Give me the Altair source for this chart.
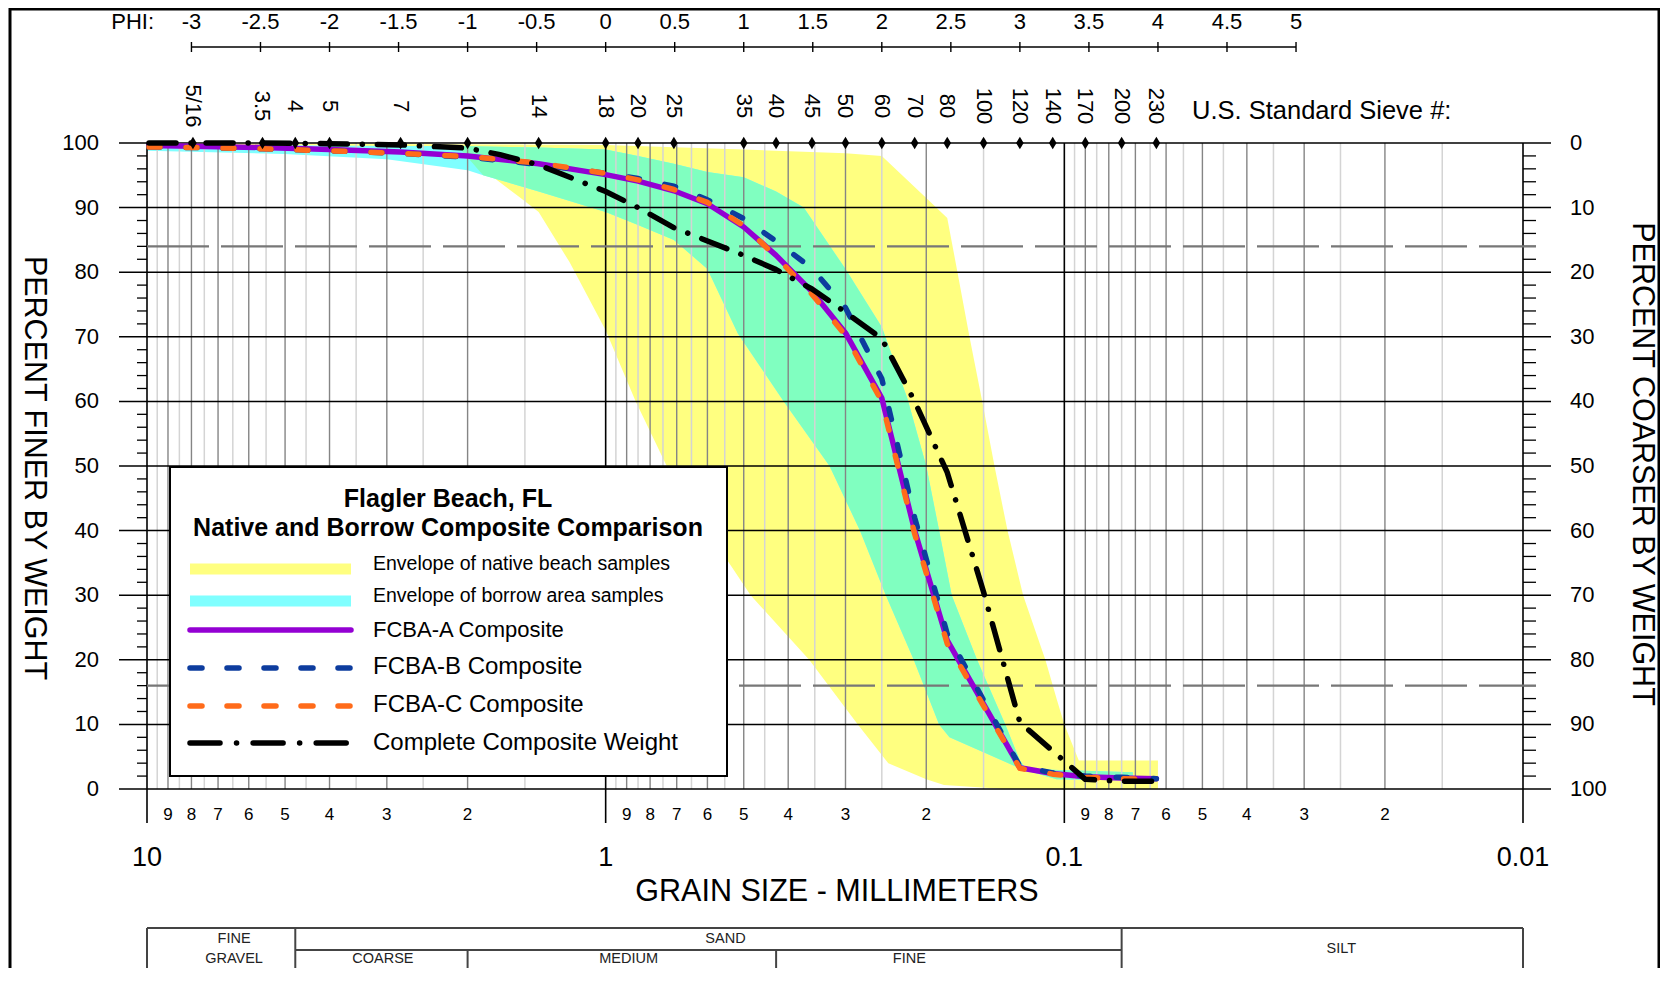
import altair as alt
import pandas as pd

# ---------------- data ----------------
PHI_VALUES = [-3, -2.5, -2, -1.5, -1, -0.5, 0, 0.5, 1, 1.5, 2, 2.5, 3, 3.5, 4, 4.5, 5]
PHI_LABELS = ["-3", "-2.5", "-2", "-1.5", "-1", "-0.5", "0", "0.5", "1", "1.5", "2",
              "2.5", "3", "3.5", "4", "4.5", "5"]

SIEVE_LABELS = ["5/16", "3.5", "4", "5", "7", "10", "14", "18", "20", "25", "35", "40", "45",
                "50", "60", "70", "80", "100", "120", "140", "170", "200", "230"]
SIEVE_MM = [7.94, 5.6, 4.75, 4.0, 2.8, 2.0, 1.4, 1.0, 0.85, 0.71, 0.5, 0.425, 0.355,
            0.3, 0.25, 0.212, 0.18, 0.15, 0.125, 0.106, 0.09, 0.075, 0.063]

MAJOR_MM = [10, 1, 0.1, 0.01]
MAJOR_LABELS = ["10", "1", "0.1", "0.01"]
DECADE_BASE = [1, 0.1, 0.01]
MINOR_MULT = [2, 3, 4, 5, 6, 7, 8, 9]
HALF_MULT = [1.5, 2.5, 3.5, 4.5, 5.5, 6.5, 7.5, 8.5, 9.5]

PCT_MAJOR = [0, 10, 20, 30, 40, 50, 60, 70, 80, 90, 100]
PCT_MINOR = [2, 4, 6, 8, 12, 14, 16, 18, 22, 24, 26, 28, 32, 34, 36, 38, 42, 44, 46, 48,
             52, 54, 56, 58, 62, 64, 66, 68, 72, 74, 76, 78, 82, 84, 86, 88, 92, 94, 96, 98]
GUIDE_PCT = [84, 16]

# envelope of native beach samples (yellow)
NATIVE_UPPER_MM = [10, 1.0, 0.5, 0.3, 0.25, 0.2, 0.18, 0.171, 0.161, 0.151, 0.142, 0.133,
                   0.123, 0.11, 0.104, 0.1, 0.093, 0.0625]
NATIVE_UPPER_PCT = [100, 99.7, 99.0, 98.4, 98.0, 91.5, 88.4, 80, 70, 60, 50, 40,
                    30, 20, 14, 10, 4.4, 4.4]
NATIVE_LOWER_MM = [10, 4.0, 2.5, 2.05, 1.82, 1.54, 1.4, 1.2, 1.0, 0.86, 0.736, 0.6,
                   0.483, 0.36, 0.282, 0.242, 0.2, 0.183, 0.135, 0.0625]
NATIVE_LOWER_PCT = [99.8, 99.6, 99.3, 98.5, 95.5, 91.6, 89.3, 81.6, 71.0, 60.0, 50.0, 40.0,
                    30.0, 20.0, 10.0, 4.0, 1.5, 0.6, 0.0, 0.0]

# envelope of borrow area samples (cyan)
BORROW_UPPER_MM = [10, 2.0, 1.4, 1.0, 0.85, 0.71, 0.6, 0.5, 0.425, 0.37, 0.3, 0.25, 0.22,
                   0.2, 0.1875, 0.176, 0.155, 0.1345, 0.125, 0.121, 0.0709]
BORROW_UPPER_PCT = [99.7, 99.5, 99.3, 99.0, 98.0, 96.8, 95.5, 94.7, 92.5, 90.0, 80.5, 71.5, 60.5,
                    50.0, 40.0, 30.0, 20.0, 10.0, 4.4, 3.1, 2.6]
BORROW_LOWER_MM = [10, 5.0, 3.0, 2.0, 1.85, 1.4, 1.0, 0.85, 0.71, 0.6, 0.515, 0.409, 0.325,
                   0.279, 0.245, 0.213, 0.1875, 0.178, 0.124, 0.104, 0.0709]
BORROW_LOWER_PCT = [98.8, 98.3, 97.5, 95.8, 95.0, 92.5, 89.3, 87.3, 85.0, 80.5, 70.5, 60.0, 50.0,
                    40.0, 30.0, 20.0, 10.0, 8.0, 3.1, 1.5, 1.3]
# where the native envelope's lower edge cuts into the borrow envelope (overlap starts)
OVERLAP_LEFT_MM = [2.1, 1.85]
OVERLAP_LEFT_PCT = [99.5, 95.0]

# composites
A_MM = [9.9, 7.94, 5.6, 4.0, 2.8, 2.0, 1.4, 1.0, 0.85, 0.71, 0.6, 0.5, 0.425, 0.355, 0.3,
        0.25, 0.212, 0.18, 0.125, 0.106, 0.09, 0.075, 0.063]
A_PCT = [99.6, 99.5, 99.3, 99.0, 98.6, 98.0, 96.8, 95.1, 94.1, 92.6, 90.6, 87.0, 82.6, 77.0,
         70.6, 60.5, 40.0, 23.0, 3.3, 2.4, 1.9, 1.7, 1.6]
B_PCT = [99.4, 99.3, 99.1, 98.8, 98.4, 97.8, 96.7, 95.3, 94.5, 93.3, 91.2, 88.3, 84.8, 80.6,
         74.5, 63.5, 42.0, 24.0, 3.5, 2.5, 2.0, 1.8, 1.6]
C_PCT = [99.4, 99.3, 99.1, 98.8, 98.4, 97.9, 96.9, 95.3, 94.3, 92.8, 90.8, 87.2, 82.4, 76.6,
         70.2, 60.0, 39.5, 22.5, 3.2, 2.3, 1.8, 1.6, 1.5]
K_MM = [9.9, 7.94, 5.6, 4.0, 2.8, 2.0, 1.7, 1.4, 1.0, 0.85, 0.71, 0.5, 0.425, 0.355, 0.3,
        0.25, 0.212, 0.18, 0.15, 0.125, 0.09, 0.075, 0.063]
K_PCT = [100, 100, 100, 99.9, 99.7, 99.2, 98.2, 96.6, 92.5, 90.0, 86.9, 82.6, 80.4, 77.4,
         73.8, 69.7, 60.0, 49.0, 30.5, 10.3, 1.5, 1.2, 1.2]

LEGEND_TITLE = ["Flagler Beach, FL", "Native and Borrow Composite Comparison"]
LEGEND_LABELS = ["Envelope of native beach samples", "Envelope of borrow area samples",
                 "FCBA-A Composite", "FCBA-B Composite", "FCBA-C Composite",
                 "Complete Composite Weight"]

CLASS_FULL_MM = [10, 4.75, 0.075, 0.01]
CLASS_HALF_MM = [2.0, 0.425]
CLASS_LABELS = ["FINE", "GRAVEL", "SAND", "COARSE", "MEDIUM", "FINE", "SILT"]
CLASS_LABEL_MM = [6.46, 6.46, 0.548, 3.06, 0.891, 0.2177, 0.0249]
CLASS_LABEL_ROW = ["top", "bottom", "top", "bottom", "bottom", "bottom", "mid"]

# ---------------- styling ----------------
W, H = 1376, 646
FONT = "Liberation Sans, Arial, sans-serif"
YELLOW, CYAN, MINT = "#FFFF80", "#80FFFF", "#80FFC0"
PURPLE, BLUE, ORANGE = "#9400D3", "#0D3C9E", "#FF6B1A"

XS = alt.Scale(type="log", domain=[0.01, 10], reverse=True, nice=False)
YS = alt.Scale(domain=[0, 100], nice=False, zero=False)


def X(f="mm"):
    return alt.X(f"{f}:Q", scale=XS, axis=None)


def Y(f="pct"):
    return alt.Y(f"{f}:Q", scale=YS, axis=None)


def label(text, x, y, size, **kw):
    return alt.Chart(pd.DataFrame({"t": [text]})).mark_text(
        baseline="middle", font=FONT, fontSize=size, color="black", **kw).encode(
        x=alt.value(x), y=alt.value(y), text="t:N")


ONE = pd.DataFrame({"k": [0]})
layers = []

# frame
layers.append(alt.Chart(ONE).mark_rect(fill="white", stroke="black", strokeWidth=3).encode(
    x=alt.value(-137), x2=alt.value(1512), y=alt.value(-134), y2=alt.value(900)))


# envelopes as filled polygons
def poly_df(umm, upct, lmm, lpct):
    mm = list(umm) + list(reversed(lmm))
    pct = list(upct) + list(reversed(lpct))
    return pd.DataFrame({"i": list(range(len(mm))), "mm": mm, "pct": pct})


def poly_chart(df, color):
    return alt.Chart(df).mark_line(filled=True, color=color, strokeWidth=0).encode(
        x=X(), y=Y(), order=alt.Order("i:Q"))


native_poly = poly_df(NATIVE_UPPER_MM, NATIVE_UPPER_PCT, NATIVE_LOWER_MM, NATIVE_LOWER_PCT)
borrow_poly = poly_df(BORROW_UPPER_MM, BORROW_UPPER_PCT, BORROW_LOWER_MM, BORROW_LOWER_PCT)
mu = [(OVERLAP_LEFT_MM[0], OVERLAP_LEFT_PCT[0])] + [
    (m, p) for m, p in zip(BORROW_UPPER_MM, BORROW_UPPER_PCT) if m < OVERLAP_LEFT_MM[0]]
ml = [(OVERLAP_LEFT_MM[1], OVERLAP_LEFT_PCT[1])] + [
    (m, p) for m, p in zip(BORROW_LOWER_MM, BORROW_LOWER_PCT) if m < OVERLAP_LEFT_MM[1]]
overlap_poly = poly_df([a for a, _ in mu], [b for _, b in mu], [a for a, _ in ml], [b for _, b in ml])

layers += [poly_chart(native_poly, YELLOW), poly_chart(borrow_poly, CYAN),
           poly_chart(overlap_poly, MINT)]

# vertical grid
half_df = pd.DataFrame({"mm": [m * b for b in DECADE_BASE for m in HALF_MULT]})
int_df = pd.DataFrame({"mm": [m * b for b in DECADE_BASE for m in MINOR_MULT]})
dec_df = pd.DataFrame({"mm": MAJOR_MM})
layers.append(alt.Chart(half_df).mark_rule(color="#d4d4d4", strokeWidth=1.5).encode(
    x=X(), y=alt.value(0), y2=alt.value(H)))
layers.append(alt.Chart(int_df).mark_rule(color="#858585", strokeWidth=1.4).encode(
    x=X(), y=alt.value(0), y2=alt.value(H)))
layers.append(alt.Chart(dec_df).mark_rule(color="black", strokeWidth=1.6).encode(
    x=X(), y=alt.value(0), y2=alt.value(H + 34)))

# horizontal grid + ticks
pm_df = pd.DataFrame({"pct": PCT_MAJOR})
pn_df = pd.DataFrame({"pct": PCT_MINOR})
layers.append(alt.Chart(pm_df).mark_rule(color="black", strokeWidth=1.5).encode(
    y=Y(), x=alt.value(-28), x2=alt.value(W + 28)))
layers.append(alt.Chart(pn_df).mark_rule(color="black", strokeWidth=1.3).encode(
    y=Y(), x=alt.value(-10), x2=alt.value(0)))
layers.append(alt.Chart(pn_df).mark_rule(color="black", strokeWidth=1.3).encode(
    y=Y(), x=alt.value(W), x2=alt.value(W + 13)))

# dashed guide lines
layers.append(alt.Chart(pd.DataFrame({"pct": GUIDE_PCT})).mark_rule(
    color="#777777", strokeWidth=2.2, strokeDash=[62, 12]).encode(
    y=Y(), x=alt.value(0), x2=alt.value(W + 13)))


# composite curves
def curve(mm, pct, color, dash=None, width=5.5):
    df = pd.DataFrame({"i": list(range(len(mm))), "mm": mm, "pct": pct})
    kw = dict(color=color, strokeWidth=width, strokeCap="round", strokeJoin="round")
    if dash:
        kw["strokeDash"] = dash
    return alt.Chart(df).mark_line(**kw).encode(x=X(), y=Y(), order=alt.Order("i:Q"))


layers.append(curve(A_MM, A_PCT, PURPLE))
layers.append(curve(A_MM, B_PCT, BLUE, [11, 26]))
layers.append(curve(A_MM, C_PCT, ORANGE, [11, 26]))
layers.append(curve(K_MM, K_PCT, "black", [27, 15, 0.1, 15]))

# sieve diamonds + labels
sieve_df = pd.DataFrame({"mm": SIEVE_MM, "label": SIEVE_LABELS, "pct": [100] * len(SIEVE_MM)})
layers.append(alt.Chart(sieve_df).mark_point(
    shape="M0,-1L0.6,0L0,1L-0.6,0Z", filled=True, color="black", size=160, opacity=1).encode(
    x=X(), y=Y()))
layers.append(alt.Chart(sieve_df).mark_text(
    angle=90, align="center", baseline="middle", font=FONT, fontSize=22, color="black").encode(
    x=X(), y=alt.value(-37), text="label:N"))
layers.append(label("U.S. Standard Sieve #:", 1045, -32, 25.5, align="left"))

# PHI axis
phi_df = pd.DataFrame({"phi": PHI_VALUES, "label": PHI_LABELS})
phi_line = pd.DataFrame({"a": [2.0 ** (-PHI_VALUES[0])], "b": [2.0 ** (-PHI_VALUES[-1])]})
layers.append(alt.Chart(phi_line).mark_rule(color="black", strokeWidth=1.6).encode(
    x=X("a"), x2="b:Q", y=alt.value(-96)))
phi_base = alt.Chart(phi_df).transform_calculate(mm="pow(2, -datum.phi)")
layers.append(phi_base.mark_rule(color="black", strokeWidth=1.4).encode(
    x=X(), y=alt.value(-101), y2=alt.value(-91)))
layers.append(phi_base.mark_text(baseline="middle", align="center", font=FONT, fontSize=22,
                                 color="black").encode(x=X(), y=alt.value(-121), text="label:N"))
layers.append(label("PHI:", 7, -121, 22, align="right"))

# left / right percent labels
layers.append(alt.Chart(pm_df).mark_text(align="right", baseline="middle", font=FONT,
                                         fontSize=22, color="black").encode(
    y=Y(), x=alt.value(-48), text="pct:Q"))
layers.append(alt.Chart(pm_df).transform_calculate(coarser="100 - datum.pct").mark_text(
    align="left", baseline="middle", font=FONT, fontSize=22, color="black").encode(
    y=Y(), x=alt.value(W + 47), text="coarser:Q"))

# bottom labels
minor_lab = pd.DataFrame({"mm": [m * b for b in DECADE_BASE for m in MINOR_MULT],
                          "label": [str(m) for b in DECADE_BASE for m in MINOR_MULT]})
layers.append(alt.Chart(minor_lab).mark_text(baseline="middle", font=FONT, fontSize=17,
                                             color="black").encode(
    x=X(), y=alt.value(H + 26), text="label:N"))
layers.append(alt.Chart(pd.DataFrame({"mm": MAJOR_MM, "label": MAJOR_LABELS})).mark_text(
    baseline="middle", font=FONT, fontSize=27, color="black").encode(
    x=X(), y=alt.value(H + 69), text="label:N"))

# axis titles
layers.append(label("GRAIN SIZE - MILLIMETERS", W / 2 + 2, H + 103, 30.5))
layers.append(label("PERCENT FINER BY WEIGHT", -113, H / 2 + 2, 30.5, angle=90))
layers.append(label("PERCENT COARSER BY WEIGHT", W + 119, H / 2 - 2, 30.5, angle=90))

# classification table
TBL = "#444444"
layers.append(alt.Chart(pd.DataFrame({"a": [10], "b": [0.01]})).mark_rule(
    color=TBL, strokeWidth=2).encode(x=X("a"), x2="b:Q", y=alt.value(785)))
layers.append(alt.Chart(pd.DataFrame({"a": [4.75], "b": [0.075]})).mark_rule(
    color=TBL, strokeWidth=2).encode(x=X("a"), x2="b:Q", y=alt.value(807)))
layers.append(alt.Chart(pd.DataFrame({"mm": CLASS_FULL_MM})).mark_rule(
    color=TBL, strokeWidth=2).encode(x=X(), y=alt.value(785), y2=alt.value(840)))
layers.append(alt.Chart(pd.DataFrame({"mm": CLASS_HALF_MM})).mark_rule(
    color=TBL, strokeWidth=2).encode(x=X(), y=alt.value(807), y2=alt.value(840)))
cls_df = pd.DataFrame({"mm": CLASS_LABEL_MM, "label": CLASS_LABELS, "row": CLASS_LABEL_ROW})
for row, yy in [("top", 796), ("bottom", 816), ("mid", 806)]:
    layers.append(alt.Chart(cls_df).transform_filter(f"datum.row == '{row}'").mark_text(
        baseline="middle", font=FONT, fontSize=14.5, color="#222222").encode(
        x=X(), y=alt.value(yy), text="label:N"))

# legend box
layers.append(alt.Chart(ONE).mark_rect(fill="white", stroke="black", strokeWidth=2).encode(
    x=alt.value(23), x2=alt.value(580), y=alt.value(324), y2=alt.value(633)))
for txt, yy in zip(LEGEND_TITLE, [356, 385]):
    layers.append(label(txt, 301, yy, 25, fontWeight="bold"))


def legend_rule(y, color, width, dash=None, cap="butt"):
    kw = dict(color=color, strokeWidth=width, strokeCap=cap)
    if dash:
        kw["strokeDash"] = dash
    return alt.Chart(ONE).mark_rule(**kw).encode(
        x=alt.value(43), x2=alt.value(204), y=alt.value(y))


layers.append(legend_rule(426, YELLOW, 11))
layers.append(legend_rule(458, CYAN, 11))
layers.append(legend_rule(487, PURPLE, 5.5, cap="round"))
layers.append(legend_rule(525, BLUE, 5.5, [12, 25], "round"))
layers.append(legend_rule(563, ORANGE, 5.5, [12, 25], "round"))
layers.append(legend_rule(600, "black", 5.5, [30, 16.5, 0.1, 16.5], "round"))
for lab, yy, fs in zip(LEGEND_LABELS, [421, 453, 487, 524, 562, 600],
                       [19.5, 19.5, 22, 24, 24, 24]):
    layers.append(label(lab, 226, yy, fs, align="left"))

chart = alt.layer(*layers).properties(
    width=W, height=H,
    autosize=alt.AutoSizeParams(type="none"),
    padding={"left": 139, "top": 135, "right": 137, "bottom": 179},
    background="white",
).configure_view(strokeWidth=0)

chart.save("out.html", embed_options={"renderer": "svg", "actions": False})
